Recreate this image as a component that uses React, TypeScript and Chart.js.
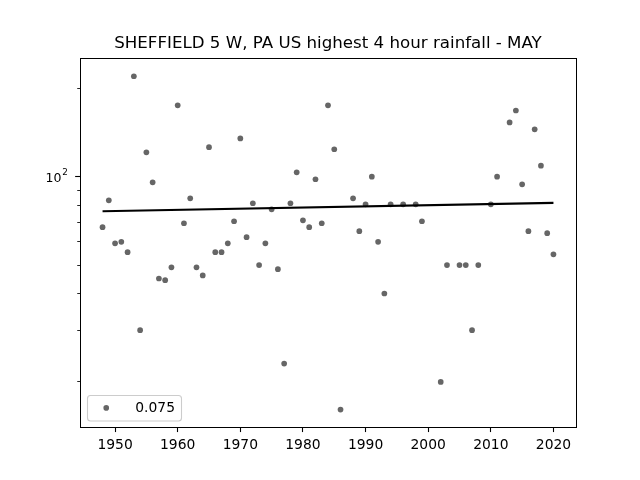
import React, { useEffect, useRef } from "react";
import { Chart, registerables } from "chart.js";

Chart.register(...registerables);

const titleText = "SHEFFIELD 5 W, PA US highest 4 hour rainfall - MAY";
const legendLabel = "0.075";
const years = [
  1948, 1949, 1950, 1951, 1952, 1953, 1954, 1955, 1956, 1957, 1958, 1959,
  1960, 1961, 1962, 1963, 1964, 1965, 1966, 1967, 1968, 1969, 1970, 1971,
  1972, 1973, 1974, 1975, 1976, 1977, 1978, 1979, 1980, 1981, 1982, 1983,
  1984, 1985, 1986, 1988, 1989, 1990, 1991, 1992, 1993, 1994, 1996, 1998,
  1999, 2002, 2003, 2005, 2006, 2007, 2008, 2010, 2011, 2013, 2014, 2015,
  2016, 2017, 2018, 2019, 2020,
];
const rainfall = [
  67.3, 83.1, 59.3, 60, 55.3, 219.8, 30, 121, 95.7, 45, 44.4, 49.1,
  175, 69.4, 84.4, 49.1, 46.1, 126, 55.3, 55.3, 59.3, 70.5, 135, 62.2,
  81.2, 50, 59.3, 77.4, 48.4, 23.1, 81.2, 103.5, 71, 67.3, 98, 69.4,
  175, 124, 16.1, 84.4, 65.2, 80.5, 100, 60, 40, 80.5, 80.5, 80.5,
  70.5, 20, 50, 50, 50, 30, 50, 80.5, 100, 153, 168, 94.2,
  65.2, 145, 109, 64.2, 54.4,
];
const trendYears = [1948, 2020];
const trendValues = [76.2, 81.4];
const xTicks = [1950, 1960, 1970, 1980, 1990, 2000, 2010, 2020];
const yMajorTicks = [100];
const yMinorTicks = [20, 30, 40, 50, 60, 70, 80, 90, 200];

const FONT = "'DejaVu Sans'";

const framePlugin = {
  id: "frame",
  afterLayout(chart: any) {
    const lg = chart.legend;
    lg.left = 99.3;
    lg.right = 175;
    lg.top = 401;
    lg.bottom = 416;
    lg.width = 75.7;
    lg.height = 15;
  },
  beforeDraw(chart: any) {
    const { ctx } = chart;
    ctx.save();
    ctx.beginPath();
    ctx.roundRect(87.5, 395.5, 94, 25.5, 3);
    ctx.fillStyle = "rgba(255,255,255,0.8)";
    ctx.fill();
    ctx.strokeStyle = "#cccccc";
    ctx.lineWidth = 1.1;
    ctx.stroke();
    ctx.restore();
  },
  afterDraw(chart: any) {
    const { ctx, chartArea: a, scales } = chart;
    ctx.save();
    ctx.strokeStyle = "#000";
    ctx.lineWidth = 1;
    const l = Math.floor(a.left) + 0.5;
    const t = Math.round(a.top) + 0.5;
    const r = Math.floor(a.right) + 0.5;
    const b = Math.floor(a.bottom) + 0.5;
    ctx.strokeRect(l, t, r - l, b - t);
    // superscript exponent of the 10^2 tick label
    ctx.fillStyle = "#000";
    ctx.font = `8.8px ${FONT}`;
    ctx.textAlign = "left";
    ctx.textBaseline = "alphabetic";
    ctx.fillText("2", 62.3, scales.y.getPixelForValue(yMajorTicks[0]) - 1.3);
    ctx.restore();
  },
};

export default function App() {
  const ref = useRef<HTMLCanvasElement>(null);
  useEffect(() => {
    const chart = new Chart(ref.current as HTMLCanvasElement, {
      type: "scatter",
      data: {
        datasets: [
          {
            label: legendLabel,
            data: years.map((x, i) => ({ x, y: rainfall[i] })),
            backgroundColor: "rgba(0,0,0,0.6)",
            borderColor: "rgba(0,0,0,0)",
            borderWidth: 0,
            pointRadius: 2.85,
            pointStyle: "circle",
            order: 1,
          },
          {
            label: "trend",
            data: trendYears.map((x, i) => ({ x, y: trendValues[i] })),
            showLine: true,
            borderColor: "#000",
            backgroundColor: "#000",
            borderWidth: 2.08,
            pointRadius: 0,
            order: 0,
          },
        ],
      },
      options: {
        animation: false,
        responsive: false,
        devicePixelRatio: 1,
        layout: { padding: { left: 0, right: 64, top: 0, bottom: 0 } },
        plugins: {
          tooltip: { enabled: false },
          title: {
            display: true,
            text: titleText,
            fullSize: false,
            color: "#000",
            font: { family: FONT, size: 16.67, weight: "normal", lineHeight: 1.2 },
            padding: { top: 33.5, bottom: 4.1 },
          },
          legend: {
            display: true,
            position: "chartArea",
            align: "start",
            labels: {
              filter: (item: any) => item.datasetIndex === 0,
              usePointStyle: true,
              boxWidth: 14,
              boxHeight: 4,
              padding: 0,
              color: "#000",
              textAlign: "right",
              font: { family: FONT, size: 13.89 },
            },
          },
        },
        scales: {
          x: {
            type: "linear",
            min: 1944.4,
            max: 2023.6,
            afterBuildTicks: (s: any) => {
              s.ticks = xTicks.map((value) => ({ value }));
            },
            afterFit: (s: any) => {
              s.height = 52.8;
            },
            grid: { drawOnChartArea: false, tickLength: 4.86, tickColor: "#000", tickWidth: 1.1 },
            border: { display: false },
            ticks: {
              color: "#000",
              padding: 4.86,
              maxRotation: 0,
              autoSkip: false,
              font: { family: FONT, size: 13.89 },
              callback: (v: any) => String(v),
            },
          },
          y: {
            type: "logarithmic",
            position: "left",
            weight: 1,
            min: 14.02,
            max: 254.4,
            afterBuildTicks: (s: any) => {
              s.ticks = yMajorTicks.map((value) => ({ value }));
            },
            afterFit: (s: any) => {
              s.width = 80;
            },
            grid: { drawOnChartArea: false, tickLength: 4.86, tickColor: "#000", tickWidth: 1.1 },
            border: { display: false },
            ticks: {
              color: "#000",
              padding: 13.8,
              labelOffset: 1.7,
              autoSkip: false,
              font: { family: FONT, size: 12.5 },
              callback: () => "10",
            },
          },
          yMinor: {
            type: "logarithmic",
            position: "left",
            weight: 0,
            min: 14.02,
            max: 254.4,
            afterBuildTicks: (s: any) => {
              s.ticks = yMinorTicks.map((value) => ({ value }));
            },
            afterFit: (s: any) => {
              s.width = 0;
            },
            grid: { drawOnChartArea: false, tickLength: 2.78, tickColor: "#000", tickWidth: 0.85 },
            border: { display: false },
            ticks: { display: false, autoSkip: false },
          },
        },
      } as any,
      plugins: [framePlugin],
    });
    return () => chart.destroy();
  }, []);
  return (
    <div style={{ position: "absolute", left: 0, top: 0, width: 640, height: 480, background: "#fff", overflow: "hidden" }}>
      <canvas ref={ref} width={640} height={480} style={{ display: "block" }} />
    </div>
  );
}
